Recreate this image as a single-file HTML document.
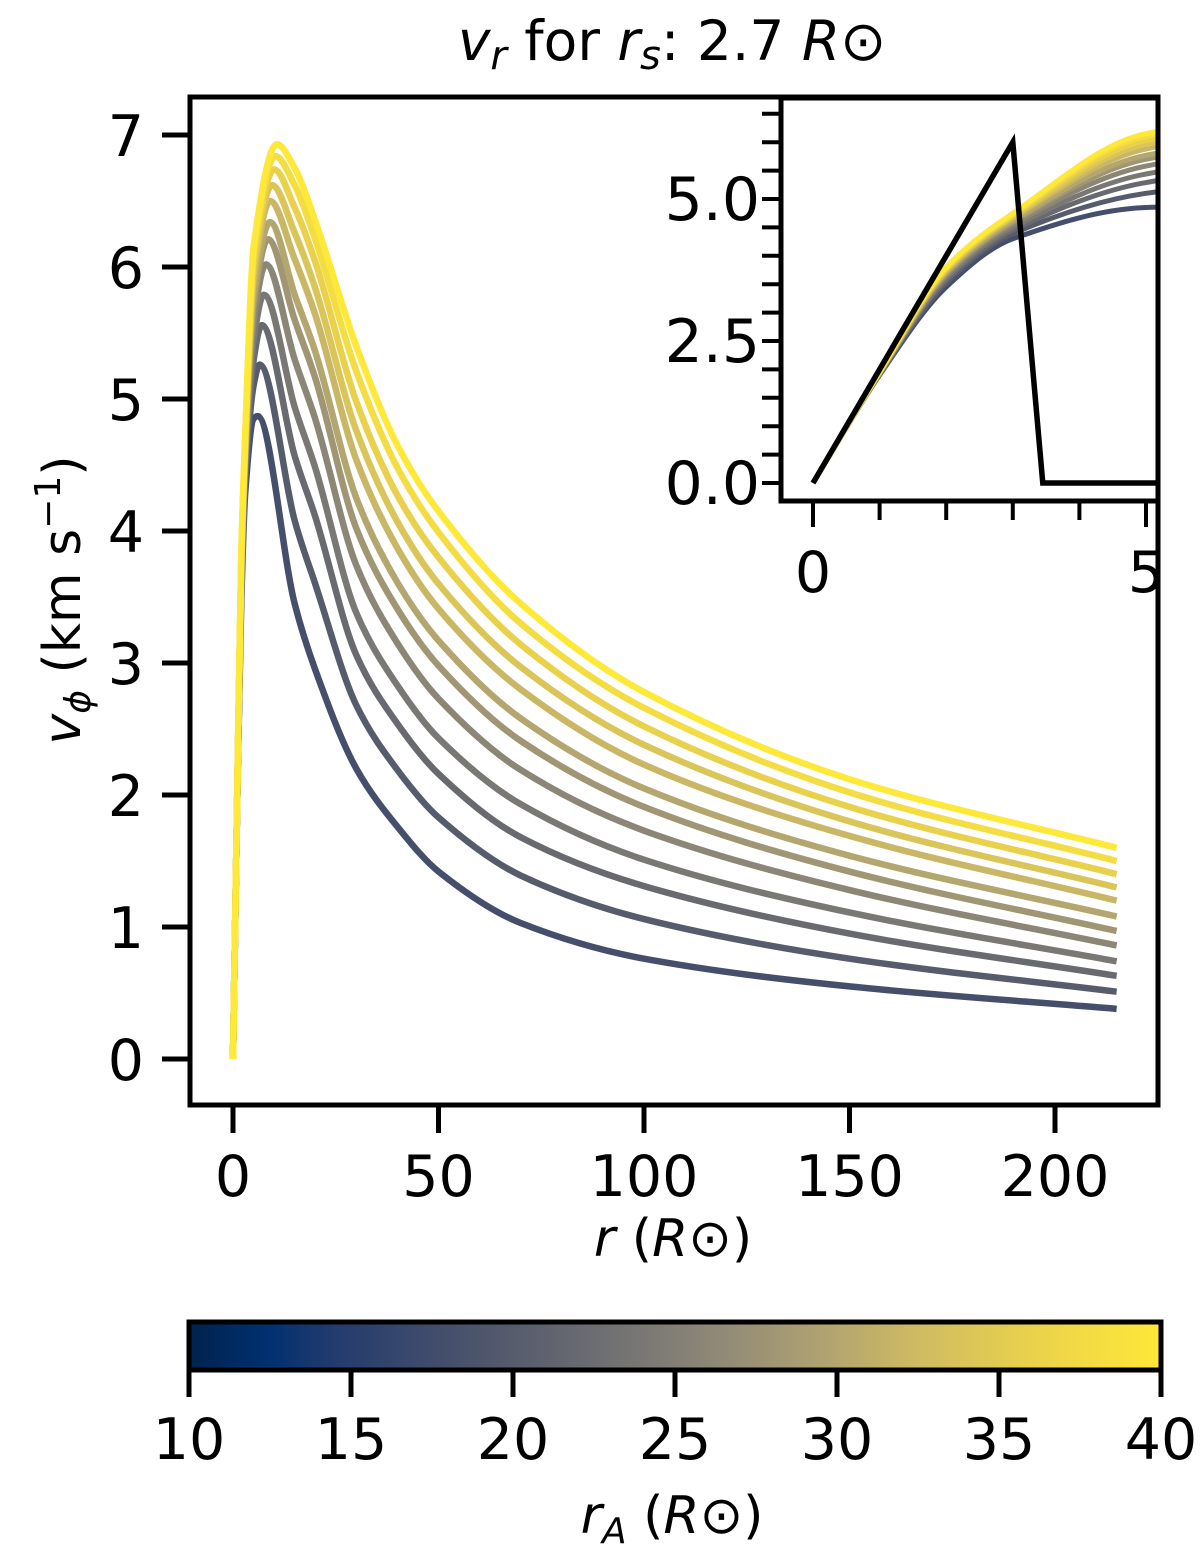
<!DOCTYPE html>
<html><head><meta charset="utf-8"><style>
html,body{margin:0;padding:0;background:#fff;}
svg{display:block;font-family:"DejaVu Sans","Liberation Sans",sans-serif;}
</style></head><body>
<svg id="fig" width="1200" height="1553" viewBox="0 0 1200 1553">
<defs>
<linearGradient id="cividis" x1="0" x2="1" y1="0" y2="0">
<stop offset="0" stop-color="#00224e"/><stop offset="0.08" stop-color="#00306f"/><stop offset="0.15" stop-color="#233b6e"/>
<stop offset="0.25" stop-color="#404c6b"/><stop offset="0.35" stop-color="#5b5f6d"/><stop offset="0.45" stop-color="#757473"/>
<stop offset="0.55" stop-color="#918a77"/><stop offset="0.65" stop-color="#afa271"/><stop offset="0.75" stop-color="#cfbb62"/>
<stop offset="0.88" stop-color="#ecd44a"/><stop offset="1" stop-color="#fee838"/>
</linearGradient>
<clipPath id="mainClip"><rect x="190" y="97" width="968" height="1008"/></clipPath>
<clipPath id="insetClip"><rect x="781" y="98" width="377" height="403"/></clipPath>
</defs>
<g id="main"></g>
<g id="inset"></g>
<g id="cbar"></g>
</svg>
<script>
// ---- data ----
const rGrid = [0, 1, 2, 3, 5, 15, 20, 30, 40, 50, 70, 100, 150, 215];
const rA = [18, 20, 22, 24, 26, 28, 30, 32, 34, 36, 38, 40];
const peakR = [6, 6.5, 7, 7.5, 8, 8.5, 9, 9, 9.5, 10, 10.3, 10.7];
const peakV = [4.87, 5.26, 5.56, 5.79, 6.02, 6.21, 6.34, 6.50, 6.62, 6.74, 6.84, 6.93];
const v18 = [0, 1.90, 3.45, 4.30, 4.85, 3.45, 2.95, 2.20, 1.76, 1.42, 1.03, 0.76, 0.55, 0.38];
const v20 = [0, 1.91, 3.52, 4.39, 5.10, 4.08, 3.60, 2.68, 2.19, 1.83, 1.39, 1.06, 0.76, 0.51];
const v22 = [0, 1.92, 3.57, 4.45, 5.29, 4.57, 4.11, 3.06, 2.54, 2.16, 1.68, 1.31, 0.95, 0.63];
const v24 = [0, 1.92, 3.61, 4.50, 5.44, 4.94, 4.48, 3.38, 2.83, 2.43, 1.93, 1.51, 1.11, 0.74];
const v26 = [0, 1.93, 3.65, 4.55, 5.58, 5.30, 4.85, 3.74, 3.15, 2.73, 2.19, 1.73, 1.28, 0.86];
const v28 = [0, 1.93, 3.68, 4.59, 5.70, 5.60, 5.16, 4.02, 3.41, 2.98, 2.41, 1.91, 1.42, 0.97];
const v30 = [0, 1.94, 3.70, 4.62, 5.77, 5.79, 5.36, 4.25, 3.61, 3.17, 2.58, 2.05, 1.54, 1.08];
const v32 = [0, 1.94, 3.73, 4.66, 5.88, 6.06, 5.64, 4.54, 3.87, 3.41, 2.80, 2.23, 1.69, 1.20];
const v34 = [0, 1.94, 3.75, 4.68, 5.96, 6.26, 5.84, 4.76, 4.07, 3.60, 2.97, 2.38, 1.80, 1.30];
const v36 = [0, 1.95, 3.77, 4.71, 6.03, 6.45, 6.04, 4.98, 4.27, 3.80, 3.14, 2.52, 1.91, 1.40];
const v38 = [0, 1.95, 3.79, 4.73, 6.10, 6.62, 6.21, 5.21, 4.48, 3.99, 3.30, 2.66, 2.02, 1.50];
const v40 = [0, 1.95, 3.80, 4.75, 6.15, 6.75, 6.35, 5.40, 4.65, 4.15, 3.45, 2.78, 2.12, 1.60];
const seriesV = [v18, v20, v22, v24, v26, v28, v30, v32, v34, v36, v38, v40];
const sourceR = [0, 3, 3.45, 5.3];
const sourceV = [0, 6, 0, 0];
const mainXTicks = [0, 50, 100, 150, 200];
const mainYTicks = [0, 1, 2, 3, 4, 5, 6, 7];
const insetXTicks = [0, 1, 2, 3, 4, 5];
const insetXLabels = [0, 5];
const insetYTicks = [0, 0.5, 1, 1.5, 2, 2.5, 3, 3.5, 4, 4.5, 5, 5.5, 6, 6.5];
const insetYLabels = [0, 2.5, 5];
const cbarTicks = [10, 15, 20, 25, 30, 35, 40];

// ---- scales ----
const mx = r => 233 + r * 4.11;
const my = v => 135 + (7 - v) * 132;
const ix = r => 813 + r * 66.6;
const iy = v => 483 - v * 56.8;
const cx = a => 189 + (a - 10) * 32.4;

const NS = 'http://www.w3.org/2000/svg';
function mk(tag, attrs, parent) { const e = document.createElementNS(NS, tag); for (const k in attrs) e.setAttribute(k, attrs[k]); parent.appendChild(e); return e; }

const cmapStops = [[0,[0,34,78]],[0.08,[0,48,111]],[0.15,[35,59,110]],[0.25,[64,76,107]],[0.35,[91,95,109]],[0.45,[117,116,115]],[0.55,[145,138,119]],[0.65,[175,162,113]],[0.75,[207,187,98]],[0.88,[236,212,74]],[1,[254,232,56]]];
function cmap(t) {
  for (let i = 1; i < cmapStops.length; i++) {
    if (t <= cmapStops[i][0]) {
      const a = cmapStops[i-1], b = cmapStops[i], f = (t - a[0]) / (b[0] - a[0]);
      const c = a[1].map((v, j) => Math.round(v + f * (b[1][j] - v)));
      return `rgb(${c[0]},${c[1]},${c[2]})`;
    }
  }
  return 'rgb(254,232,56)';
}

function monotonePath(pts) {
  const n = pts.length, xs = pts.map(p => p[0]), ys = pts.map(p => p[1]);
  const d = [], m = new Array(n);
  for (let i = 0; i < n - 1; i++) d.push((ys[i+1] - ys[i]) / (xs[i+1] - xs[i]));
  m[0] = d[0]; m[n-1] = d[n-2];
  for (let i = 1; i < n - 1; i++) m[i] = (d[i-1] * d[i] <= 0) ? 0 : 2 / (1 / d[i-1] + 1 / d[i]);
  let s = `M${xs[0]},${ys[0]}`;
  for (let i = 0; i < n - 1; i++) {
    const h = xs[i+1] - xs[i];
    s += ` C${xs[i] + h/3},${ys[i] + m[i]*h/3} ${xs[i+1] - h/3},${ys[i+1] - m[i+1]*h/3} ${xs[i+1]},${ys[i+1]}`;
  }
  return s;
}
function curvePoints(k) {
  const pts = rGrid.map((r, i) => [r, seriesV[k][i]]);
  pts.push([peakR[k], peakV[k]]);
  pts.sort((a, b) => a[0] - b[0]);
  return pts;
}
function txt(parent, x, y, s, size, anchor, name) {
  const t = mk('text', {x: x, y: y, 'font-size': size, 'text-anchor': anchor || 'middle', fill: '#000'}, parent);
  
  
  t.textContent = s;
  return t;
}

// ---- main plot ----
const main = document.getElementById('main');
const mcurves = mk('g', {'clip-path': 'url(#mainClip)'}, main);
seriesV.forEach((vals, k) => {
  const pts = curvePoints(k).map(p => [mx(p[0]), my(p[1])]);
  const p = mk('path', {d: monotonePath(pts), fill: 'none', stroke: cmap((rA[k] - 10) / 30), 'stroke-width': 6.5, 'stroke-linejoin': 'round'}, mcurves);
  
  
});
const mframe = mk('rect', {x: 190, y: 97, width: 968, height: 1008, fill: 'none', stroke: '#000', 'stroke-width': 5}, main);


mainXTicks.forEach(t => {
  const l = mk('line', {x1: mx(t), x2: mx(t), y1: 1105, y2: 1133, stroke: '#000', 'stroke-width': 5}, main);
  
  
  txt(main, mx(t), 1196, String(t), 57, 'middle', 'x-tick-label');
});
mainYTicks.forEach(t => {
  const l = mk('line', {x1: 162, x2: 190, y1: my(t), y2: my(t), stroke: '#000', 'stroke-width': 5}, main);
  
  
  txt(main, 144, my(t) + 21, String(t), 57, 'end', 'y-tick-label');
});
const xl = txt(main, 673, 1256, '', 52, 'middle', 'x-axis-title');
xl.innerHTML = '<tspan font-style="italic">r</tspan> (<tspan font-style="italic">R</tspan><tspan>⊙</tspan>)';
const yl = mk('text', {x: 0, y: 0, 'font-size': 52, 'text-anchor': 'middle', transform: 'translate(80,600) rotate(-90)'}, main);


yl.innerHTML = '<tspan font-style="italic">v</tspan><tspan font-style="italic" font-size="36" dy="10">ϕ</tspan><tspan dy="-10"> (km s</tspan><tspan font-size="36" dy="-20">−1</tspan><tspan dy="20">)</tspan>';
const tl = txt(main, 672, 60, '', 55, 'middle', 'chart-title');
tl.innerHTML = '<tspan font-style="italic">v</tspan><tspan font-style="italic" font-size="40" dy="9">r</tspan><tspan dy="-9"> for </tspan><tspan font-style="italic">r</tspan><tspan font-style="italic" font-size="40" dy="9">s</tspan><tspan dy="-9">: 2.7 </tspan><tspan font-style="italic">R</tspan><tspan>⊙</tspan>';

// ---- inset ----
const inset = document.getElementById('inset');
const ibg = mk('rect', {x: 781, y: 98, width: 377, height: 403, fill: '#fff'}, inset);


const icurves = mk('g', {'clip-path': 'url(#insetClip)'}, inset);
seriesV.forEach((vals, k) => {
  const pts = curvePoints(k).map(p => [ix(p[0]), iy(p[1])]);
  const p = mk('path', {d: monotonePath(pts), fill: 'none', stroke: cmap((rA[k] - 10) / 30), 'stroke-width': 5}, icurves);
  
  
});
const src = mk('polyline', {points: sourceR.map((r, i) => ix(r) + ',' + iy(sourceV[i])).join(' '), fill: 'none', stroke: '#000', 'stroke-width': 5.5, 'stroke-linejoin': 'miter'}, icurves);


const iframe = mk('rect', {x: 781, y: 98, width: 377, height: 403, fill: 'none', stroke: '#000', 'stroke-width': 5}, inset);


insetYTicks.forEach(t => {
  const l = mk('line', {x1: 762, x2: 781, y1: iy(t), y2: iy(t), stroke: '#000', 'stroke-width': 4}, inset);
  
  
});
insetYLabels.forEach(t => txt(inset, 760, iy(t) + 21, t.toFixed(1), 60, 'end', 'inset-y-tick-label'));
insetXTicks.forEach(t => {
  const major = insetXLabels.indexOf(t) >= 0;
  const l = mk('line', {x1: ix(t), x2: ix(t), y1: 501, y2: major ? 527 : 520, stroke: '#000', 'stroke-width': 4}, inset);
  
  
});
const ilab = mk('g', {}, inset);
ilab.innerHTML = '<clipPath id="ilabClip"><rect x="700" y="520" width="460" height="80"/></clipPath>';
const ilg = mk('g', {'clip-path': 'url(#ilabClip)'}, ilab);
insetXLabels.forEach(t => txt(ilg, ix(t), 592, String(t), 57, 'middle', 'inset-x-tick-label'));

// ---- colorbar ----
const cbar = document.getElementById('cbar');
const cb = mk('rect', {x: 189, y: 1322, width: 972, height: 48, fill: 'url(#cividis)', stroke: '#000', 'stroke-width': 5}, cbar);


cbarTicks.forEach(t => {
  const l = mk('line', {x1: cx(t), x2: cx(t), y1: 1370, y2: 1397, stroke: '#000', 'stroke-width': 5}, cbar);
  
  
  txt(cbar, cx(t), 1459, String(t), 57, 'middle', 'colorbar-tick-label');
});
const cl = txt(cbar, 672, 1533, '', 52, 'middle', 'colorbar-title');
cl.innerHTML = '<tspan font-style="italic">r</tspan><tspan font-style="italic" font-size="36" dy="10">A</tspan><tspan dy="-10"> (</tspan><tspan font-style="italic">R</tspan><tspan>⊙</tspan>)';
</script>
</body></html>
